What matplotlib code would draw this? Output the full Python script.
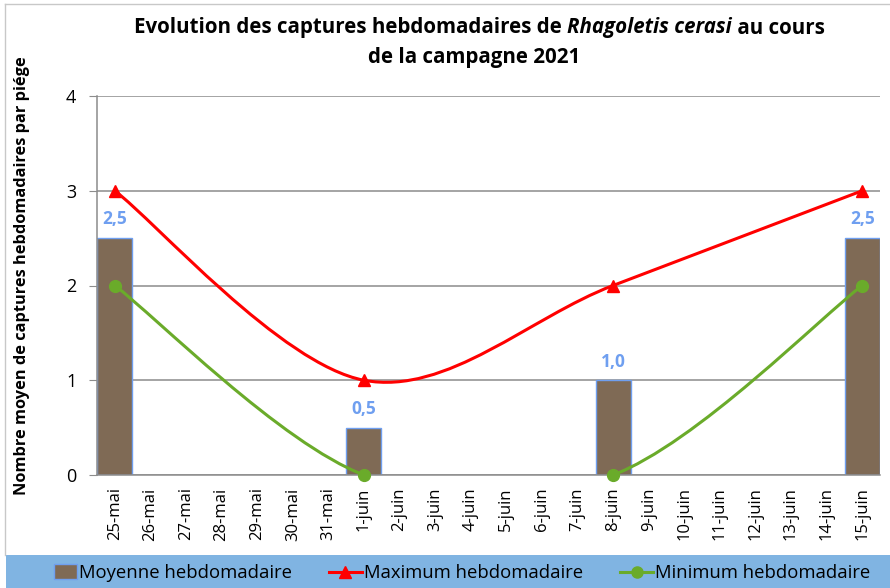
import numpy as np
import matplotlib
matplotlib.use("Agg")
import matplotlib.pyplot as plt
from matplotlib.path import Path
from matplotlib.patches import PathPatch, Rectangle
from matplotlib.lines import Line2D
from matplotlib.legend_handler import HandlerPatch

plt.rcParams['font.family'] = ['Open Sans', 'DejaVu Sans']

# daily category axis
jours = ['25-mai', '26-mai', '27-mai', '28-mai', '29-mai', '30-mai', '31-mai',
         '1-juin', '2-juin', '3-juin', '4-juin', '5-juin', '6-juin', '7-juin',
         '8-juin', '9-juin', '10-juin', '11-juin', '12-juin', '13-juin', '14-juin',
         '15-juin']
releves = ['25-mai', '1-juin', '8-juin', '15-juin']
moyenne = [2.5, 0.5, 1.0, 2.5]
maximum = [3, 1, 2, 3]
minimum = [2, 0, 0, 2]

BROWN = '#7f6a55'
BAR_EDGE = '#6f9ff0'
RED = '#ff0000'
GREEN = '#6aab2a'
GRID = '#8c8c8c'
BAND = '#80b4e2'


def smooth_path(xs, ys):
    # spreadsheet-style smoothed line: cubic bezier, tangents from neighbours / 6
    pts = np.column_stack([xs, ys]).astype(float)
    n = len(pts)
    verts = [pts[0]]
    codes = [Path.MOVETO]
    for i in range(n - 1):
        p0 = pts[max(i - 1, 0)]
        p1 = pts[i]
        p2 = pts[i + 1]
        p3 = pts[min(i + 2, n - 1)]
        c1 = p1 + (p2 - p0) / 6.0
        c2 = p2 - (p3 - p1) / 6.0
        verts += [c1, c2, p2]
        codes += [Path.CURVE4] * 3
    return Path(verts, codes)


def square_handle(legend, orig_handle, xdescent, ydescent, width, height, fontsize):
    # narrower, square-ish swatch for the bar series
    w = width * 0.7
    return Rectangle((width - w - xdescent, -ydescent - 1), w, height + 2)


W, H = 890, 588
fig = plt.figure(figsize=(W / 100, H / 100), dpi=100)
ax = fig.add_axes([97 / W, (H - 475) / H, (880 - 97) / W, (475 - 96) / H])

x = np.arange(len(jours))
xi = np.array([jours.index(d) for d in releves])

ax.set_xlim(-0.5, len(jours) - 0.5)
ax.set_ylim(0, 4)
ax.set_yticks([0, 1, 2, 3, 4])
ax.yaxis.grid(True, color=GRID, linewidth=1.1)
ax.set_axisbelow(True)

bars = ax.bar(xi, moyenne, width=0.98, color=BROWN, edgecolor=BAR_EDGE,
              linewidth=1.0, zorder=2)
for xb, v in zip(xi, moyenne):
    ax.annotate(f"{v:.1f}".replace('.', ','), (xb, v), xytext=(0, 7),
                textcoords='offset points', ha='center', va='bottom',
                color=BAR_EDGE, fontsize=12.5, fontweight='bold')

ax.add_patch(PathPatch(smooth_path(xi, maximum), fill=False, edgecolor=RED,
                       linewidth=2.2, zorder=3))
ax.add_patch(PathPatch(smooth_path(xi, minimum), fill=False, edgecolor=GREEN,
                       linewidth=2.2, zorder=3))
ax.plot(xi, maximum, linestyle='none', marker='^', markersize=9, color=RED,
        zorder=4, clip_on=False)
ax.plot(xi, minimum, linestyle='none', marker='o', markersize=8.5, color=GREEN,
        zorder=4, clip_on=False)

ax.set_xticks(x)
ax.set_xticklabels(jours, rotation=90, fontsize=12)
ax.tick_params(axis='x', length=0, pad=9)
ax.tick_params(axis='y', length=6, color=GRID, labelsize=13, pad=9)
for s in ['top', 'right']:
    ax.spines[s].set_visible(False)
for s in ['left', 'bottom']:
    ax.spines[s].set_color(GRID)
    ax.spines[s].set_linewidth(1.1)

fig.text(22 / W, 1 - 276 / H, 'Nombre moyen de captures hebdomadaires par piége',
         rotation=90, ha='center', va='center', fontsize=11.8, fontweight='bold')

# title, first line has an italic species name in the middle
fig.canvas.draw()
r = fig.canvas.get_renderer()
parts = [('Evolution des captures hebdomadaires de ', 'normal'),
         ('Rhagoletis cerasi', 'italic'),
         (' au cours', 'normal')]
texts = []
for s, style in parts:
    t = fig.text(0, 1 - 28 / H, s, fontsize=14.8, fontweight='bold', style=style,
                 ha='left', va='center')
    texts.append(t)
widths = [t.get_window_extent(r).width for t in texts]
xpos = 479 - sum(widths) / 2
for t, w in zip(texts, widths):
    t.set_x(xpos / W)
    xpos += w
fig.text(474 / W, 1 - 57 / H, 'de la campagne 2021', fontsize=14.8,
         fontweight='bold', ha='center', va='center')

# legend band along the bottom
fig.patches.append(Rectangle((6 / W, 0), 1, 33 / H, transform=fig.transFigure,
                             facecolor=BAND, edgecolor='none', zorder=0))
fig.lines.append(Line2D([5 / W, 5 / W], [33 / H, 1 - 4 / H], transform=fig.transFigure,
                        color='#c8c8c8', linewidth=1))
fig.lines.append(Line2D([5 / W, 1], [1 - 4 / H, 1 - 4 / H], transform=fig.transFigure,
                        color='#c8c8c8', linewidth=1))

h_bar = Rectangle((0, 0), 1, 1, facecolor=BROWN, edgecolor=BAR_EDGE)
h_max = Line2D([], [], color=RED, marker='^', markersize=8, linewidth=2.2)
h_min = Line2D([], [], color=GREEN, marker='o', markersize=8, linewidth=2.2)
fig.legend([h_bar, h_max, h_min],
           ['Moyenne hebdomadaire', 'Maximum hebdomadaire', 'Minimum hebdomadaire'],
           loc='center', bbox_to_anchor=(457 / W, 15 / H), ncol=3, frameon=False,
           fontsize=13.3, handlelength=1.8, handletextpad=0.1, columnspacing=2.0,
           handler_map={Rectangle: HandlerPatch(patch_func=square_handle)})

fig.savefig('out.png', dpi=100)
